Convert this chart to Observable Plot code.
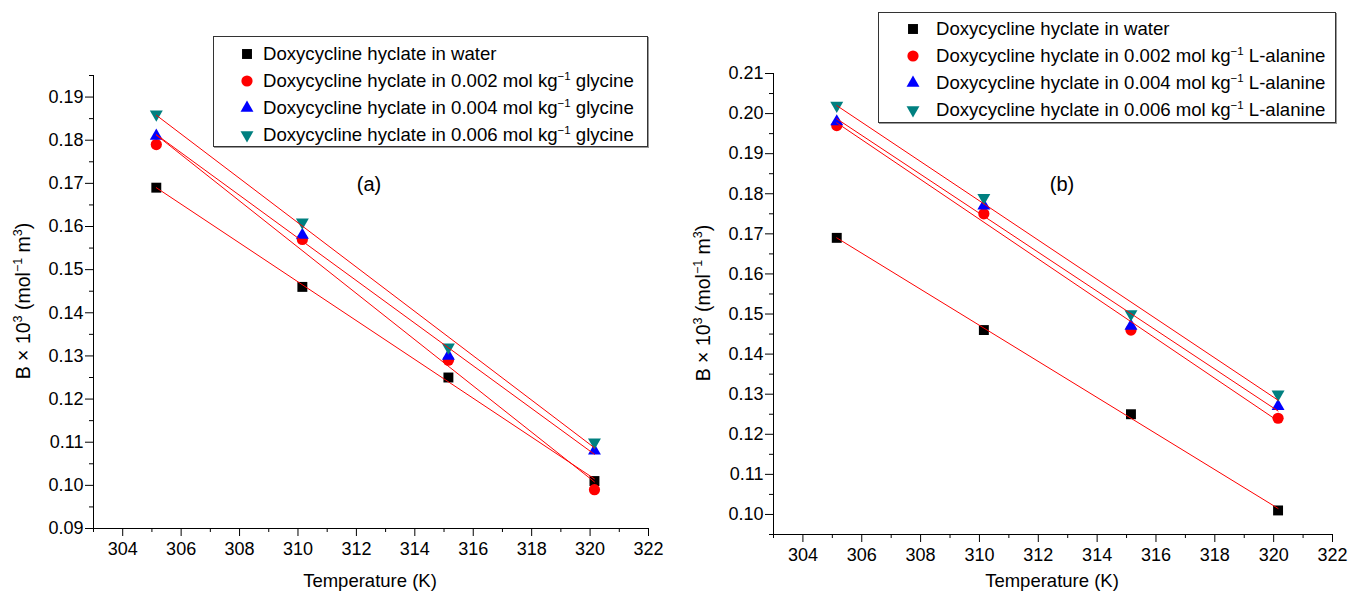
<!DOCTYPE html>
<html>
<head>
<meta charset="utf-8">
<script src="https://cdn.jsdelivr.net/npm/d3@7"></script>
<script src="https://cdn.jsdelivr.net/npm/@observablehq/plot@0.6"></script>
<style>
  html, body { margin: 0; padding: 0; background: #fff; }
  body { font-family: "Liberation Sans", Arial, Helvetica, sans-serif; color: #000; }
  #wrap { position: relative; width: 1354px; height: 597px; overflow: hidden; }
  .panel { position: absolute; top: 0; }
  .legend { position: absolute; border: 1px solid #333; box-shadow: 1px 1px 0 #999; background: #fff; box-sizing: border-box; }
  .row { position: absolute; white-space: nowrap; font-size: 18.6px; line-height: 18px; }
  .row sup { font-size: 11.5px; vertical-align: 7px; line-height: 0; }
  .sym { position: absolute; }
  .ylab { position: absolute; white-space: nowrap; font-size: 19.5px; line-height: 20px; transform: translate(-50%, -50%) rotate(-90deg); }
  .ylab sup { font-size: 12.5px; vertical-align: 8px; line-height: 0; }
  .xlab { position: absolute; white-space: nowrap; font-size: 18.5px; line-height: 18px; transform: translateX(-50%); }
  .tag { position: absolute; font-size: 20px; line-height: 20px; transform: translate(-50%, -50%); }
</style>
</head>
<body>
<div id="wrap"></div>
<script>
// ---------------- data ----------------
const temperatures = [305.15, 310.15, 315.15, 320.15];
const seriesColors = ["#000000", "#ff0000", "#0000ff", "#008080"];

// panel (a): glycine
const glyWater = [0.169, 0.146, 0.125, 0.101];
const gly002   = [0.179, 0.157, 0.129, 0.099];
const gly004   = [0.181, 0.158, 0.130, 0.108];
const gly006   = [0.186, 0.161, 0.132, 0.110];

// panel (b): L-alanine
const alaWater = [0.169, 0.146, 0.125, 0.101];
const ala002   = [0.197, 0.175, 0.146, 0.124];
const ala004   = [0.198, 0.177, 0.147, 0.127];
const ala006   = [0.202, 0.179, 0.150, 0.130];

const legendA = [
  "Doxycycline hyclate in water",
  "Doxycycline hyclate in 0.002 mol kg<sup>−1</sup> glycine",
  "Doxycycline hyclate in 0.004 mol kg<sup>−1</sup> glycine",
  "Doxycycline hyclate in 0.006 mol kg<sup>−1</sup> glycine"
];
const legendB = [
  "Doxycycline hyclate in water",
  "Doxycycline hyclate in 0.002 mol kg<sup>−1</sup> L-alanine",
  "Doxycycline hyclate in 0.004 mol kg<sup>−1</sup> L-alanine",
  "Doxycycline hyclate in 0.006 mol kg<sup>−1</sup> L-alanine"
];

const xTicks = [304, 306, 308, 310, 312, 314, 316, 318, 320, 322];
const xMinor = [303, 305, 307, 309, 311, 313, 315, 317, 319, 321];
const yTicksA = [0.09, 0.10, 0.11, 0.12, 0.13, 0.14, 0.15, 0.16, 0.17, 0.18, 0.19];
const yMinorA = [0.095, 0.105, 0.115, 0.125, 0.135, 0.145, 0.155, 0.165, 0.175, 0.185, 0.195];
const yTicksB = [0.10, 0.11, 0.12, 0.13, 0.14, 0.15, 0.16, 0.17, 0.18, 0.19, 0.20, 0.21];
const yMinorB = [0.095, 0.105, 0.115, 0.125, 0.135, 0.145, 0.155, 0.165, 0.175, 0.185, 0.195, 0.205];

const xLabel = "Temperature (K)";
const yLabelHTML = "B × 10<sup>3</sup> (mol<sup>−1</sup> m<sup>3</sup>)";

// ---------------- symbols ----------------
const symbolTriangleDown = {
  draw(context, size) {
    const y = Math.sqrt(size / (Math.sqrt(3) * 3));
    context.moveTo(0, 2 * y);
    context.lineTo(-Math.sqrt(3) * y, -y);
    context.lineTo(Math.sqrt(3) * y, -y);
    context.closePath();
  }
};
const seriesSymbols = [d3.symbolSquare, d3.symbolCircle, d3.symbolTriangle, symbolTriangleDown];
const seriesR = [5.6, 5.6, 4.8, 4.8];

const FONT = '"Liberation Sans", Arial, Helvetica, sans-serif';
const wrap = document.getElementById("wrap");

function buildPanel(series, cfg) {
  const data = [];
  series.forEach((vals, i) => vals.forEach((v, j) => data.push({T: temperatures[j], B: v, s: i})));
  const dots = series.map((_, i) =>
    Plot.dot(data.filter(d => d.s === i), {
      x: "T", y: "B", symbol: seriesSymbols[i], fill: seriesColors[i], r: seriesR[i]
    })
  );
  const plot = Plot.plot({
    width: cfg.width, height: 597,
    marginLeft: cfg.marginLeft, marginRight: cfg.marginRight,
    marginTop: cfg.marginTop, marginBottom: cfg.marginBottom,
    style: {fontFamily: FONT, fontSize: "18px", color: "#000", background: "transparent", overflow: "visible"},
    x: {domain: [303, 322], label: null},
    y: {domain: cfg.yDomain, label: null},
    marks: [
      Plot.axisX(xMinor, {tickSize: 4, tickFormat: () => "", label: null, stroke: "#000"}),
      Plot.axisX(xTicks, {tickSize: 8, tickPadding: 6, label: null, stroke: "#000", fill: "#000"}),
      Plot.axisY(cfg.yMinor, {tickSize: 4, tickFormat: () => "", label: null, stroke: "#000"}),
      Plot.axisY(cfg.yTicks, {tickSize: 8, tickPadding: 2, tickFormat: d3.format(".2f"), label: null, stroke: "#000", fill: "#000"}),
      Plot.ruleX([303], {stroke: "#000", strokeWidth: 1}),
      Plot.ruleY([cfg.yDomain[0]], {stroke: "#000", strokeWidth: 1}),
      ...dots,
      Plot.linearRegressionY(data, {x: "T", y: "B", z: "s", stroke: "#ff0000", strokeWidth: 1, ci: 0})
    ]
  });
  plot.classList.add("panel");
  plot.style.left = cfg.left + "px";
  wrap.appendChild(plot);

  // axis labels
  const yl = document.createElement("div");
  yl.className = "ylab";
  yl.innerHTML = yLabelHTML;
  yl.style.left = cfg.yLabelX + "px";
  yl.style.top = cfg.yLabelY + "px";
  wrap.appendChild(yl);

  const xl = document.createElement("div");
  xl.className = "xlab";
  xl.textContent = xLabel;
  xl.style.left = cfg.xLabelX + "px";
  xl.style.top = "572px";
  wrap.appendChild(xl);

  const tg = document.createElement("div");
  tg.className = "tag";
  tg.textContent = cfg.tag;
  tg.style.left = cfg.tagX + "px";
  tg.style.top = "184px";
  wrap.appendChild(tg);

  // legend
  const lg = document.createElement("div");
  lg.className = "legend";
  Object.assign(lg.style, {left: cfg.lg.left + "px", top: cfg.lg.top + "px", width: cfg.lg.w + "px", height: cfg.lg.h + "px"});
  cfg.labels.forEach((lab, i) => {
    const cy = cfg.lg.row0 + i * cfg.lg.step;
    const svg = d3.create("svg").attr("width", 16).attr("height", 16).attr("class", "sym")
      .style("left", (cfg.lg.symX - 8) + "px").style("top", (cy - 8) + "px");
    const size = seriesR[i] * seriesR[i] * Math.PI;
    svg.append("path").attr("transform", "translate(8,8)")
      .attr("d", d3.symbol(seriesSymbols[i], size)()).attr("fill", seriesColors[i]);
    lg.appendChild(svg.node());
    const row = document.createElement("div");
    row.className = "row";
    row.innerHTML = lab;
    row.style.left = cfg.lg.textX + "px";
    row.style.top = (cy - 9) + "px";
    lg.appendChild(row);
  });
  wrap.appendChild(lg);
}

buildPanel([glyWater, gly002, gly004, gly006], {
  left: 0, width: 677, marginLeft: 93, marginRight: 29, marginTop: 75, marginBottom: 69,
  yDomain: [0.09, 0.195], yTicks: yTicksA, yMinor: yMinorA,
  yLabelX: 23, yLabelY: 301, xLabelX: 370, tag: "(a)", tagX: 369,
  labels: legendA,
  lg: {left: 213, top: 36, w: 435, h: 111, row0: 17, step: 27, symX: 33, textX: 49}
});

buildPanel([alaWater, ala002, ala004, ala006], {
  left: 677, width: 677, marginLeft: 96, marginRight: 22, marginTop: 73, marginBottom: 63,
  yDomain: [0.095, 0.21], yTicks: yTicksB, yMinor: yMinorB,
  yLabelX: 703, yLabelY: 303, xLabelX: 1052, tag: "(b)", tagX: 1062,
  labels: legendB,
  lg: {left: 878, top: 12, w: 458, h: 111, row0: 16, step: 27, symX: 34, textX: 57}
});
</script>
</body>
</html>
